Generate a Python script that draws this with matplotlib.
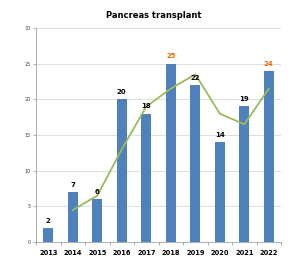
import matplotlib.pyplot as plt
import numpy as np

years = ["2013", "2014", "2015", "2016", "2017", "2018", "2019", "2020", "2021", "2022"]
counts = [2, 7, 6, 20, 18, 25, 22, 14, 19, 24]
# tendencia (media móvil de 2 años)
trend_years = ["2014", "2015", "2016", "2017", "2018", "2019", "2020", "2021", "2022"]
trend = [4.5, 6.5, 13, 19, 21.5, 23.5, 18, 16.5, 21.5]
highlight = ["2018", "2022"]

BAR_COLOR = "#4F81BD"
LINE_COLOR = "#9BBB59"
HL_COLOR = "#E46C0A"

fig = plt.figure(figsize=(3.0, 2.69), dpi=100)
ax = fig.add_axes([0.12, 0.100, 0.817, 0.796])

x = np.arange(len(years))
ax.bar(x, counts, width=0.4, color=BAR_COLOR, zorder=2)
tx = [years.index(y) for y in trend_years]
ax.plot(tx, trend, color=LINE_COLOR, lw=1.3, zorder=3)

for xi, y, v in zip(x, years, counts):
    c = HL_COLOR if y in highlight else "black"
    ax.text(xi, v + 0.6, str(v), ha="center", va="bottom", fontsize=5,
            fontweight="bold", color=c, zorder=4)

ax.set_xlim(-0.5, len(years) - 0.5)
ax.set_ylim(0, 30)
ax.set_yticks(range(0, 31, 5))
ax.yaxis.grid(True, color="#D9D9D9", lw=0.6, zorder=0)
ax.set_axisbelow(True)

ax.set_xticks(x)
ax.set_xticklabels(years, fontsize=4.8, fontweight="bold")
ax.set_xticks(np.arange(-0.5, len(years), 1), minor=True)
ax.tick_params(axis="x", which="major", length=0, pad=6)
ax.tick_params(axis="x", which="minor", length=2.5, color="#A0A0A0", width=0.6)
ax.tick_params(axis="y", labelsize=3.5, labelcolor="#404040", length=2,
               color="#A0A0A0", width=0.6, pad=2)

for s in ["top", "right"]:
    ax.spines[s].set_visible(False)
for s in ["left", "bottom"]:
    ax.spines[s].set_color("#A0A0A0")
    ax.spines[s].set_linewidth(0.6)

fig.text(0.512, 0.944, "Pancreas transplant", ha="center", va="center",
         fontsize=6, fontweight="bold")

fig.savefig("out.png", dpi=100)
